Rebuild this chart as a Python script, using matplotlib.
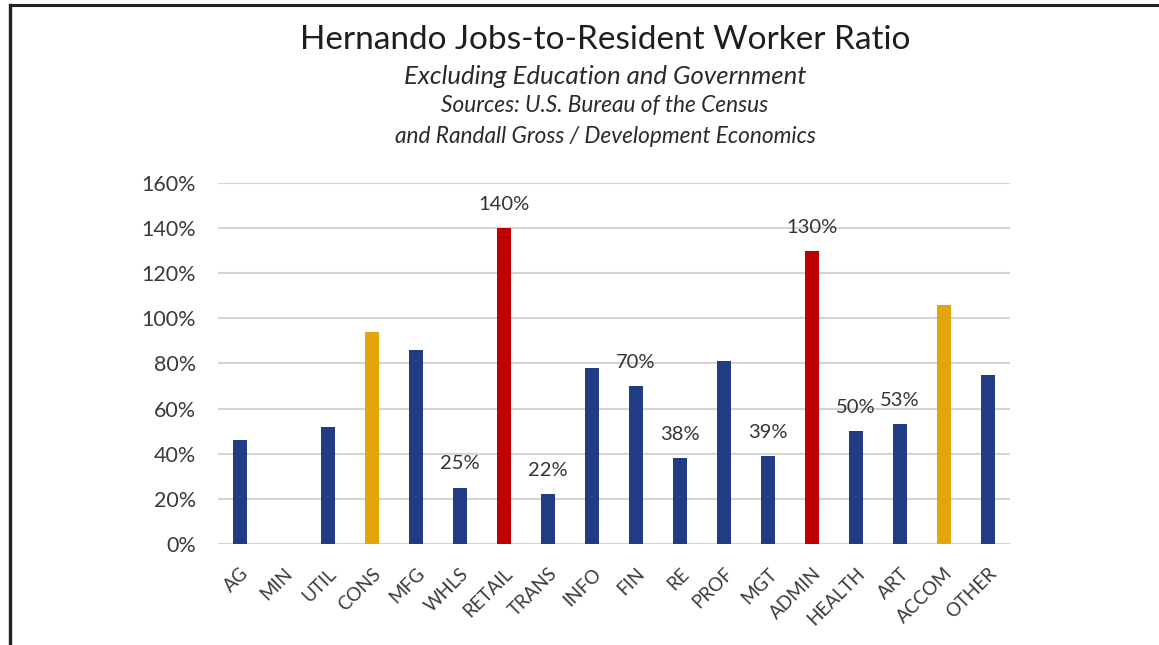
import matplotlib.pyplot as plt
from matplotlib.ticker import PercentFormatter

plt.rcParams['font.family'] = ['Lato', 'DejaVu Sans']

# Jobs-to-resident-worker ratio by industry (%)
sectors = ['AG', 'MIN', 'UTIL', 'CONS', 'MFG', 'WHLS', 'RETAIL', 'TRANS', 'INFO',
           'FIN', 'RE', 'PROF', 'MGT', 'ADMIN', 'HEALTH', 'ART', 'ACCOM', 'OTHER']
ratio = [46, 0, 52, 94, 86, 25, 140, 22, 78, 70, 38, 81, 39, 130, 50, 53, 106, 75]
bar_colors = ['#1f3c84', '#1f3c84', '#1f3c84', '#e3a50c', '#1f3c84', '#1f3c84',
              '#c00000', '#1f3c84', '#1f3c84', '#1f3c84', '#1f3c84', '#1f3c84',
              '#1f3c84', '#c00000', '#1f3c84', '#1f3c84', '#e3a50c', '#1f3c84']
labeled = ['WHLS', 'RETAIL', 'TRANS', 'FIN', 'RE', 'MGT', 'ADMIN', 'HEALTH', 'ART']

fig = plt.figure(figsize=(11.59, 6.45), dpi=100)
ax = fig.add_axes([0.188, 0.1566, 0.6835, 0.5597])

x = range(len(sectors))
ax.bar(x, ratio, width=0.32, color=bar_colors, zorder=3)

for i, (s, v) in enumerate(zip(sectors, ratio)):
    if s in labeled:
        ax.annotate(f'{v}%', (i, v), xytext=(0, 17), textcoords='offset points',
                    ha='center', va='center', fontsize=14.5, color='#333333')

ax.set_ylim(0, 160)
ax.set_xlim(-0.5, len(sectors) - 0.5)
ax.set_yticks(range(0, 161, 20))
ax.yaxis.set_major_formatter(PercentFormatter(decimals=0))
ax.grid(axis='y', color='#d4d4d4', linewidth=1.5, zorder=0)
for sp in ax.spines.values():
    sp.set_visible(False)
ax.tick_params(length=0)
ax.tick_params(axis='y', labelsize=15.5, labelcolor='#3a3a3a', pad=16)
ax.set_xticks(list(x))
ax.set_xticklabels(sectors, rotation=45, ha='right', rotation_mode='anchor',
                   fontsize=13.5, color='#3a3a3a')
ax.tick_params(axis='x', pad=15)

fig.text(0.522, 0.938, 'Hernando Jobs-to-Resident Worker Ratio', ha='center', va='center',
         fontsize=24, color='#1e1e1e')
fig.text(0.522, 0.882, 'Excluding Education and Government', ha='center', va='center',
         fontsize=18.5, style='italic', color='#2a2a2a')
fig.text(0.522, 0.837, 'Sources: U.S. Bureau of the Census', ha='center', va='center',
         fontsize=16.3, style='italic', color='#2a2a2a')
fig.text(0.522, 0.788, 'and Randall Gross / Development Economics', ha='center', va='center',
         fontsize=16.3, style='italic', color='#2a2a2a')

# frame lines along the top and left edges
fig.add_artist(plt.Line2D([0.0085, 1.0], [0.992, 0.992], color='#222222', linewidth=2.2))
fig.add_artist(plt.Line2D([0.009, 0.009], [0.0, 0.992], color='#222222', linewidth=2.4))

fig.savefig('out.png', dpi=100)
